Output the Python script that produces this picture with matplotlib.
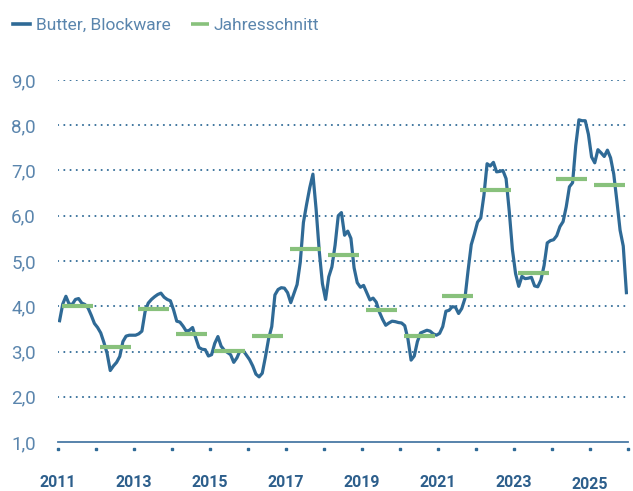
import numpy as np
import matplotlib
matplotlib.use("Agg")
import matplotlib.pyplot as plt
from matplotlib.ticker import FuncFormatter

# Monatswerte Butter, Blockware (Jan 2011 - Dez 2025)
butter = [
    3.68, 4.05, 4.22, 4.05, 4.04, 4.15, 4.17, 4.07, 4.04, 3.96, 3.80, 3.62,  # 2011
    3.53, 3.41, 3.20, 2.96, 2.58, 2.68, 2.76, 2.89, 3.22, 3.34, 3.36, 3.36,  # 2012
    3.36, 3.39, 3.45, 3.88, 4.07, 4.15, 4.21, 4.26, 4.29, 4.20, 4.15, 4.12,  # 2013
    3.92, 3.67, 3.65, 3.56, 3.45, 3.47, 3.53, 3.30, 3.09, 3.05, 3.04, 2.90,  # 2014
    2.93, 3.18, 3.33, 3.12, 3.03, 2.98, 2.93, 2.76, 2.86, 3.02, 3.02, 2.92,  # 2015
    2.82, 2.68, 2.50, 2.44, 2.52, 2.88, 3.28, 3.55, 4.25, 4.37, 4.41, 4.40,  # 2016
    4.30, 4.08, 4.28, 4.48, 4.97, 5.85, 6.25, 6.62, 6.92, 6.15, 5.22, 4.50,  # 2017
    4.15, 4.65, 4.87, 5.35, 6.00, 6.07, 5.57, 5.66, 5.50, 4.85, 4.52, 4.42,  # 2018
    4.46, 4.30, 4.14, 4.18, 4.09, 3.87, 3.71, 3.58, 3.63, 3.67, 3.66, 3.64,  # 2019
    3.63, 3.57, 3.28, 2.81, 2.90, 3.22, 3.41, 3.44, 3.47, 3.45, 3.39, 3.36,  # 2020
    3.40, 3.55, 3.89, 3.91, 3.99, 3.98, 3.84, 3.95, 4.17, 4.79, 5.36, 5.60,  # 2021
    5.86, 5.95, 6.45, 7.15, 7.10, 7.18, 6.97, 6.98, 7.00, 6.82, 6.10, 5.25,  # 2022
    4.72, 4.44, 4.66, 4.61, 4.62, 4.64, 4.45, 4.43, 4.58, 4.90, 5.40, 5.45,  # 2023
    5.47, 5.56, 5.76, 5.87, 6.20, 6.64, 6.73, 7.55, 8.12, 8.10, 8.10, 7.80,  # 2024
    7.30, 7.17, 7.46, 7.39, 7.31, 7.45, 7.28, 6.92, 6.32, 5.68, 5.33, 4.30,  # 2025
]

# Jahresdurchschnitte
jahre = list(range(2011, 2026))
jahresschnitt = [4.00, 3.09, 3.95, 3.38, 3.01, 3.35, 5.27, 5.14, 3.91, 3.34,
                 4.23, 6.57, 4.73, 6.81, 6.69]

beschriftete_jahre = [2011, 2013, 2015, 2017, 2019, 2021, 2023, 2025]
y_ticks = [1, 2, 3, 4, 5, 6, 7, 8, 9]

blau = "#2f6a96"
gruen = "#88c17c"
text_blau = "#5a85ad"
jahr_blau = "#2d5f8c"

plt.rcParams['font.family'] = ['Roboto', 'DejaVu Sans']

fig = plt.figure(figsize=(6.33, 4.91), dpi=100)
ax = fig.add_axes([58 / 633, 49 / 491, 570 / 633, 362 / 491])

x_monate = 2011 + (np.arange(len(butter)) + 0.5) / 12
ax.plot(x_monate, butter, color=blau, lw=2.3, solid_joinstyle='round',
        label="Butter, Blockware", zorder=3)

ax.hlines(jahresschnitt, [j + 0.11 for j in jahre], [j + 0.93 for j in jahre],
          color=gruen, lw=3.0, label="Jahresschnitt", zorder=4)

ax.set_xlim(2011, 2026)
ax.set_ylim(1, 9)

# gepunktete Gitterlinien
for y in y_ticks[1:]:
    ax.axhline(y, color=blau, lw=1.4, linestyle=(0, (0.1, 3.1)),
               dash_capstyle='round', zorder=1)

for s in ['top', 'right', 'left']:
    ax.spines[s].set_visible(False)
ax.spines['bottom'].set_color("#4a7aa5")
ax.spines['bottom'].set_linewidth(1.3)

ax.set_yticks(y_ticks)
ax.yaxis.set_major_formatter(FuncFormatter(lambda v, p: f"{v:.1f}".replace('.', ',')))
ax.tick_params(axis='y', length=0, pad=16, labelsize=13.5, labelcolor=text_blau)

ax.set_xticks(beschriftete_jahre)
ax.set_xticklabels([str(j) for j in beschriftete_jahre], fontweight='bold')
ax.tick_params(axis='x', length=0, pad=24, labelsize=11.5, labelcolor=jahr_blau)
ax.xaxis.get_major_ticks()[-1].set_pad(25)

# Punkte unter der Achse
ax.plot(range(2011, 2027), [-0.018] * 16, 's', ms=1.6, color=blau,
        transform=ax.get_xaxis_transform(), clip_on=False)

leg = fig.legend(loc='upper left', bbox_to_anchor=(-0.004, 0.995), ncol=2,
                 frameon=False, fontsize=12.5, handlelength=1.0,
                 handletextpad=0.3, columnspacing=1.2)
for t in leg.get_texts():
    t.set_color(text_blau)
for h in leg.legend_handles:
    h.set_linewidth(2.6)

fig.savefig("out.png", dpi=100)
